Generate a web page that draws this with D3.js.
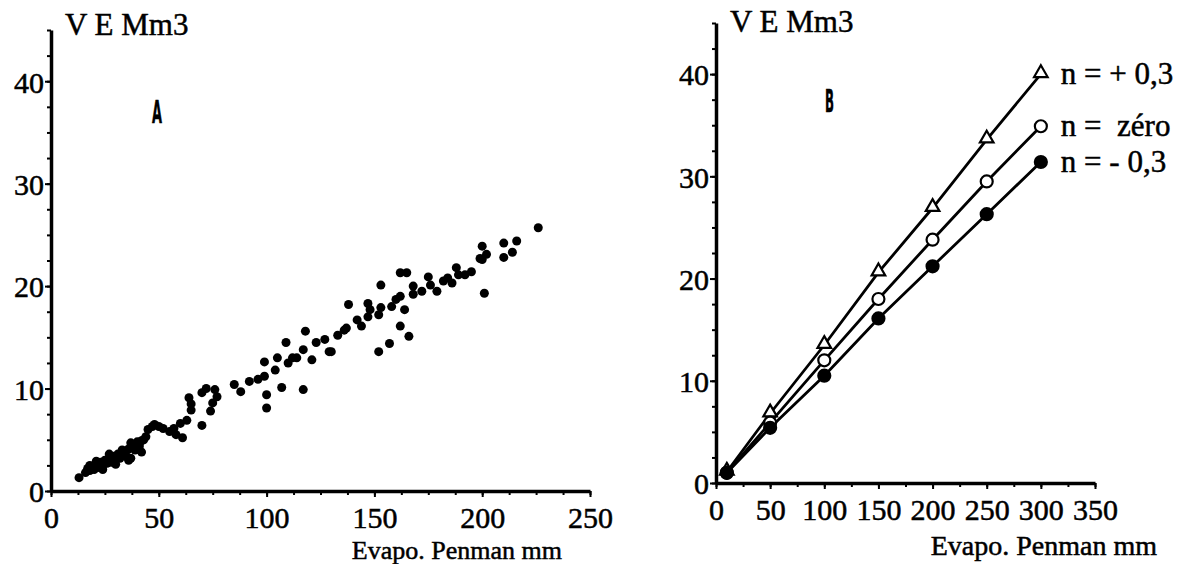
<!DOCTYPE html>
<html>
<head>
<meta charset="utf-8">
<script src="https://cdn.jsdelivr.net/npm/d3@7"></script>
<style>
  body { margin: 0; background: #fff; }
  svg { display: block; }
  text { font-family: 'Liberation Serif', 'DejaVu Serif', serif; fill: #000; stroke: #000; stroke-width: 0.5px; }
  .axis path, .axis line { stroke: #000; }
  .axis path { stroke-width: 3.5; }
  .axis line { stroke-width: 2; }
  .axis text { font-size: 30px; font-family: 'Liberation Serif', serif; stroke: #000; stroke-width: 0.5px; }
</style>
</head>
<body>
<svg id="chart" width="1194" height="564"></svg>
<script>
// Panel A: observed volume vs Penman evaporation
const scatterEvapo = [13, 16, 17, 18, 19, 20, 21, 22, 23, 24, 25, 26, 27, 28, 29, 30, 31, 32, 33, 34,
  35, 36, 37, 37, 38, 39, 40, 41, 42, 43, 44, 45, 47, 48, 50, 52, 55, 57, 58, 60,
  61, 63, 64, 65, 65, 70, 70, 72, 74, 75, 76, 77,
  85, 88, 92, 96, 99, 99, 100, 100, 104, 105, 107, 109, 110, 112, 114, 117, 117, 118,
  121, 123, 127, 129, 130, 133, 136, 137, 138, 142, 144, 147, 147, 148, 152, 152, 153, 153,
  157, 158, 160, 162, 162, 162, 164, 165, 166, 168, 168, 172, 175, 176, 179, 182, 184, 186,
  188, 189, 192, 195, 199, 200, 200, 201, 202, 210, 210, 214, 216, 226,
  18, 21, 24, 27, 30, 33, 36, 39, 42];
const scatterVolume = [1.3, 1.8, 2.2, 2.0, 2.4, 2.1, 2.6, 2.3, 2.8, 2.5, 3.0, 2.7, 3.2, 2.8, 3.4, 3.0, 3.6, 3.2, 3.5, 3.9,
  3.4, 4.1, 3.2, 4.7, 4.3, 4.0, 4.8, 4.4, 3.8, 5.0, 5.3, 6.0, 6.3, 6.5, 6.3, 6.1, 5.8, 6.1, 5.5, 6.6,
  5.2, 6.9, 9.1, 7.9, 8.5, 6.4, 9.6, 10.0, 7.8, 8.6, 9.9, 9.2,
  10.4, 9.7, 10.7, 10.9, 12.6, 11.2, 9.4, 8.1, 11.8, 13.0, 10.1, 14.5, 12.5, 13.0, 13.0, 9.9, 13.8, 15.6,
  12.8, 14.5, 14.8, 13.6, 13.6, 15.2, 15.7, 15.9, 18.2, 16.7, 16.1, 18.3, 17.0, 17.7, 17.2, 13.6, 17.9, 20.1,
  14.4, 18.0, 18.7, 19.0, 16.1, 21.3, 17.7, 21.3, 15.1, 20.0, 19.2, 19.5, 20.9, 20.1, 19.5, 20.5, 20.8, 20.3,
  21.8, 21.1, 21.1, 21.4, 22.7, 23.9, 22.6, 19.3, 23.1, 24.2, 22.8, 23.3, 24.4, 25.7,
  2.5, 2.9, 2.1, 3.6, 2.6, 4.0, 3.0, 4.6, 4.9];

// Panel B: computed volume for three values of n
const penmanSteps = [10, 50, 100, 150, 200, 250, 300];
const volPlus = [1.1, 6.8, 13.5, 20.6, 26.9, 33.6, 40.0];
const volZero = [1.0, 5.9, 12.0, 18.0, 23.8, 29.5, 34.9];
const volMinus = [1.0, 5.4, 10.5, 16.1, 21.2, 26.3, 31.4];
const seriesLabels = ['n = + 0,3', 'n =  zéro', 'n = - 0,3'];
const seriesMarkers = ['triangle', 'open', 'filled'];

const yTicks = [0, 10, 20, 30, 40];
const xTicksA = [0, 50, 100, 150, 200, 250];
const xTicksB = [0, 50, 100, 150, 200, 250, 300, 350];
const yTitle = 'V E Mm3';
const xTitle = 'Evapo. Penman mm';

const svg = d3.select('#chart');

function drawAxes(x, y, xTicks, xMinorStep, yMinorStep) {
  const xMax = x.domain()[1];
  const yMax = y.domain()[1];
  const baseY = y(0);
  const baseX = x(0);

  // minor ticks first, majors drawn on top
  svg.append('g')
    .attr('class', 'axis')
    .attr('transform', `translate(0,${baseY})`)
    .call(d3.axisBottom(x)
      .tickValues(d3.range(0, xMax + 0.01, xMinorStep))
      .tickSize(4).tickSizeOuter(0).tickFormat(''))
    .select('.domain').remove();
  svg.append('g')
    .attr('class', 'axis')
    .attr('transform', `translate(${baseX},0)`)
    .call(d3.axisLeft(y)
      .tickValues(d3.range(0, yMax + 0.01, yMinorStep))
      .tickSize(4).tickSizeOuter(0).tickFormat(''))
    .select('.domain').remove();

  const xAxis = svg.append('g')
    .attr('class', 'axis')
    .attr('transform', `translate(0,${baseY})`)
    .call(d3.axisBottom(x).tickValues(xTicks).tickSize(6).tickSizeOuter(0));
  xAxis.selectAll('text').attr('y', 37).attr('dy', 0);

  const yAxis = svg.append('g')
    .attr('class', 'axis')
    .attr('transform', `translate(${baseX},0)`)
    .call(d3.axisLeft(y).tickValues(yTicks).tickSize(6).tickSizeOuter(0));
  yAxis.selectAll('text').attr('x', -7).attr('dy', '0.36em');
}

// ---- Panel A ----
const xA = d3.scaleLinear().domain([0, 250]).range([51, 590]);
const yA = d3.scaleLinear().domain([0, 45]).range([491, 30]);
drawAxes(xA, yA, xTicksA, 12.5, 2.5);

svg.append('text')
  .attr('x', 65).attr('y', 35)
  .style('font-size', '31px')
  .text(yTitle);
svg.append('text')
  .attr('x', 152).attr('y', 123)
  .attr('textLength', 10).attr('lengthAdjust', 'spacingAndGlyphs')
  .style('font-family', 'DejaVu Sans').style('font-weight', 'bold').style('font-size', '32px')
  .text('A');
svg.append('text')
  .attr('x', 562).attr('y', 559)
  .attr('text-anchor', 'end')
  .style('font-size', '26px')
  .text(xTitle);

svg.append('g')
  .selectAll('circle')
  .data(scatterEvapo.map((d, i) => ({ x: d, y: scatterVolume[i] })))
  .join('circle')
  .attr('cx', d => xA(d.x))
  .attr('cy', d => yA(d.y))
  .attr('r', 4.5)
  .attr('fill', '#000');

// ---- Panel B ----
const xB = d3.scaleLinear().domain([0, 350]).range([716, 1095]);
const yB = d3.scaleLinear().domain([0, 45]).range([483, 23]);
drawAxes(xB, yB, xTicksB, 25, 2.5);

svg.append('text')
  .attr('x', 730).attr('y', 32)
  .style('font-size', '31px')
  .text(yTitle);
svg.append('text')
  .attr('x', 825).attr('y', 112)
  .attr('textLength', 9).attr('lengthAdjust', 'spacingAndGlyphs')
  .style('font-family', 'DejaVu Sans').style('font-weight', 'bold').style('font-size', '32px')
  .text('B');
svg.append('text')
  .attr('x', 1157).attr('y', 555)
  .attr('text-anchor', 'end')
  .style('font-size', '28px')
  .text(xTitle);

const series = [volPlus, volZero, volMinus];
const line = d3.line()
  .x((d, i) => xB(penmanSteps[i]))
  .y(d => yB(d));

series.forEach((vals) => {
  svg.append('path')
    .datum(vals)
    .attr('d', line)
    .attr('fill', 'none')
    .attr('stroke', '#000')
    .attr('stroke-width', 2.8);
});

series.forEach((vals, k) => {
  const g = svg.append('g');
  const pts = vals.map((v, i) => ({ x: penmanSteps[i], y: v }));
  if (seriesMarkers[k] === 'triangle') {
    g.selectAll('path')
      .data(pts)
      .join('path')
      .attr('d', d3.symbol(d3.symbolTriangle, 80))
      .attr('transform', d => `translate(${xB(d.x)},${yB(d.y) - 1})`)
      .attr('fill', '#fff')
      .attr('stroke', '#000')
      .attr('stroke-width', 2.2);
  } else {
    g.selectAll('circle')
      .data(pts)
      .join('circle')
      .attr('cx', d => xB(d.x))
      .attr('cy', d => yB(d.y))
      .attr('r', 6)
      .attr('fill', seriesMarkers[k] === 'open' ? '#fff' : '#000')
      .attr('stroke', '#000')
      .attr('stroke-width', 2.2);
  }
  svg.append('text')
    .attr('x', xB(penmanSteps[penmanSteps.length - 1]) + 20)
    .attr('y', yB(vals[vals.length - 1]) + 10)
    .style('font-size', '31px')
    .style('white-space', 'pre')
    .text(seriesLabels[k]);
});
</script>
</body>
</html>
